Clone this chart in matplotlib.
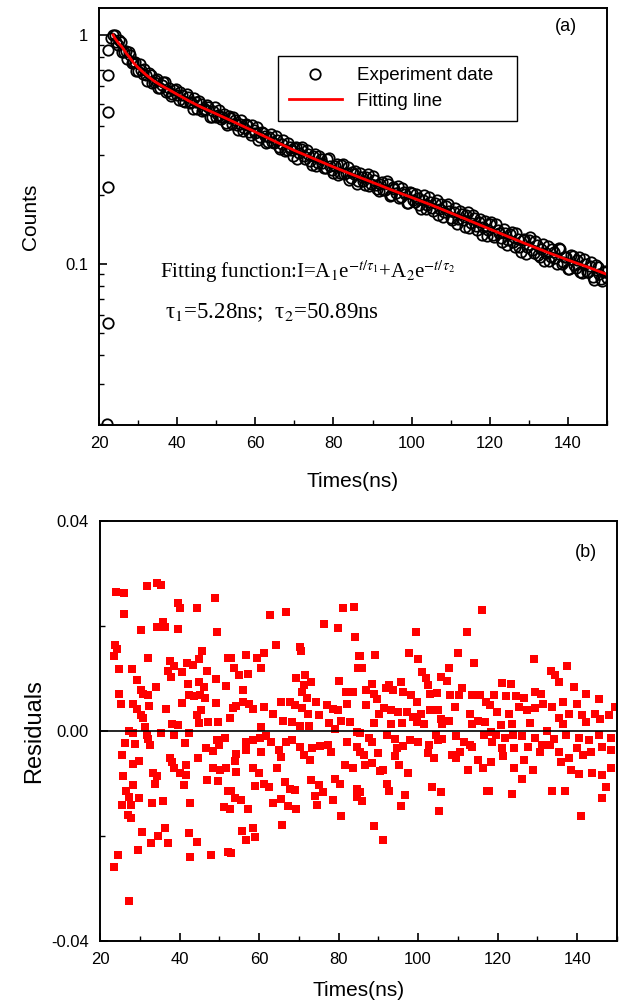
#=============================================================================================
# FLUORESCENCE DECAY + RESIDUALS
#=============================================================================================
import matplotlib
matplotlib.use("Agg")
import matplotlib.pyplot as plt
from matplotlib.ticker import FixedLocator, FixedFormatter, LogLocator, NullFormatter, MultipleLocator

plt.rcParams["font.family"] = ["Liberation Sans", "DejaVu Sans"]
plt.rcParams["mathtext.fontset"] = "stix"

# ---------------- DATA ---------------- #
# rising edge of the decay (first channels)
rise_t = [22.1, 22.2, 22.2, 22.3, 22.3, 22.4, 23.0, 23.5]
rise_counts = [0.0200, 0.0552, 0.217, 0.46, 0.67, 0.86, 0.97, 1.0]

# experiment data (normalised counts), even channels
exp_t = [
    24.0, 24.8, 25.6, 26.4, 27.2, 28.0, 28.8, 29.6, 30.4, 31.2,
    32.0, 32.8, 33.6, 34.4, 35.2, 36.0, 36.8, 37.6, 38.4, 39.2,
    40.0, 40.8, 41.6, 42.4, 43.2, 44.0, 44.8, 45.6, 46.4, 47.2,
    48.0, 48.8, 49.6, 50.4, 51.2, 52.0, 52.8, 53.6, 54.4, 55.2,
    56.0, 56.8, 57.6, 58.4, 59.2, 60.0, 60.8, 61.6, 62.4, 63.2,
    64.0, 64.8, 65.6, 66.4, 67.2, 68.0, 68.8, 69.6, 70.4, 71.2,
    72.0, 72.8, 73.6, 74.4, 75.2, 76.0, 76.8, 77.6, 78.4, 79.2,
    80.0, 80.8, 81.6, 82.4, 83.2, 84.0, 84.8, 85.6, 86.4, 87.2,
    88.0, 88.8, 89.6, 90.4, 91.2, 92.0, 92.8, 93.6, 94.4, 95.2,
    96.0, 96.8, 97.6, 98.4, 99.2, 100.0, 100.8, 101.6, 102.4, 103.2,
    104.0, 104.8, 105.6, 106.4, 107.2, 108.0, 108.8, 109.6, 110.4, 111.2,
    112.0, 112.8, 113.6, 114.4, 115.2, 116.0, 116.8, 117.6, 118.4, 119.2,
    120.0, 120.8, 121.6, 122.4, 123.2, 124.0, 124.8, 125.6, 126.4, 127.2,
    128.0, 128.8, 129.6, 130.4, 131.2, 132.0, 132.8, 133.6, 134.4, 135.2,
    136.0, 136.8, 137.6, 138.4, 139.2, 140.0, 140.8, 141.6, 142.4, 143.2,
    144.0, 144.8, 145.6, 146.4, 147.2, 148.0, 148.8, 149.6,
]
exp_counts = [
    1.00, 0.902, 0.931, 0.843, 0.787, 0.814, 0.765, 0.695, 0.746, 0.676,
    0.670, 0.680, 0.619, 0.636, 0.588, 0.606, 0.620, 0.568, 0.542, 0.577,
    0.545, 0.562, 0.515, 0.553, 0.503, 0.475, 0.507, 0.513, 0.463, 0.475,
    0.482, 0.439, 0.482, 0.445, 0.429, 0.453, 0.404, 0.432, 0.439, 0.404,
    0.409, 0.379, 0.410, 0.376, 0.405, 0.373, 0.349, 0.377, 0.360, 0.341,
    0.368, 0.337, 0.346, 0.317, 0.349, 0.315, 0.323, 0.296, 0.323, 0.304,
    0.324, 0.287, 0.301, 0.271, 0.301, 0.277, 0.287, 0.262, 0.288, 0.268,
    0.249, 0.272, 0.250, 0.273, 0.249, 0.232, 0.253, 0.255, 0.230, 0.239,
    0.220, 0.246, 0.224, 0.233, 0.212, 0.224, 0.211, 0.230, 0.197, 0.217,
    0.205, 0.194, 0.214, 0.201, 0.185, 0.205, 0.187, 0.194, 0.173, 0.199,
    0.180, 0.186, 0.170, 0.191, 0.173, 0.160, 0.179, 0.170, 0.156, 0.175,
    0.157, 0.165, 0.145, 0.168, 0.151, 0.158, 0.141, 0.157, 0.145, 0.132,
    0.149, 0.134, 0.149, 0.136, 0.125, 0.137, 0.127, 0.138, 0.119, 0.129,
    0.113, 0.129, 0.119, 0.131, 0.112, 0.121, 0.107, 0.122, 0.112, 0.103,
    0.116, 0.106, 0.117, 0.0996, 0.107, 0.0946, 0.109, 0.0989, 0.104, 0.0921,
    0.105, 0.0922, 0.0979, 0.0874, 0.0986, 0.0902, 0.0846, 0.0936,
]

# experiment data, odd channels
exp_t2 = [
    24.4, 25.2, 26.0, 26.8, 27.6, 28.4, 29.2, 30.0, 30.8, 31.6,
    32.4, 33.2, 34.0, 34.8, 35.6, 36.4, 37.2, 38.0, 38.8, 39.6,
    40.4, 41.2, 42.0, 42.8, 43.6, 44.4, 45.2, 46.0, 46.8, 47.6,
    48.4, 49.2, 50.0, 50.8, 51.6, 52.4, 53.2, 54.0, 54.8, 55.6,
    56.4, 57.2, 58.0, 58.8, 59.6, 60.4, 61.2, 62.0, 62.8, 63.6,
    64.4, 65.2, 66.0, 66.8, 67.6, 68.4, 69.2, 70.0, 70.8, 71.6,
    72.4, 73.2, 74.0, 74.8, 75.6, 76.4, 77.2, 78.0, 78.8, 79.6,
    80.4, 81.2, 82.0, 82.8, 83.6, 84.4, 85.2, 86.0, 86.8, 87.6,
    88.4, 89.2, 90.0, 90.8, 91.6, 92.4, 93.2, 94.0, 94.8, 95.6,
    96.4, 97.2, 98.0, 98.8, 99.6, 100.4, 101.2, 102.0, 102.8, 103.6,
    104.4, 105.2, 106.0, 106.8, 107.6, 108.4, 109.2, 110.0, 110.8, 111.6,
    112.4, 113.2, 114.0, 114.8, 115.6, 116.4, 117.2, 118.0, 118.8, 119.6,
    120.4, 121.2, 122.0, 122.8, 123.6, 124.4, 125.2, 126.0, 126.8, 127.6,
    128.4, 129.2, 130.0, 130.8, 131.6, 132.4, 133.2, 134.0, 134.8, 135.6,
    136.4, 137.2, 138.0, 138.8, 139.6, 140.4, 141.2, 142.0, 142.8, 143.6,
    144.4, 145.2, 146.0, 146.8, 147.6, 148.4, 149.2, 150.0,
]
exp_counts2 = [
    0.931, 0.948, 0.842, 0.848, 0.845, 0.750, 0.759, 0.692, 0.700, 0.707,
    0.629, 0.665, 0.625, 0.643, 0.588, 0.625, 0.562, 0.587, 0.554, 0.583,
    0.518, 0.546, 0.510, 0.538, 0.509, 0.531, 0.473, 0.500, 0.468, 0.495,
    0.437, 0.467, 0.438, 0.472, 0.439, 0.411, 0.444, 0.408, 0.423, 0.384,
    0.426, 0.392, 0.403, 0.366, 0.383, 0.396, 0.357, 0.374, 0.336, 0.359,
    0.340, 0.361, 0.323, 0.334, 0.311, 0.338, 0.314, 0.322, 0.287, 0.317,
    0.295, 0.315, 0.281, 0.295, 0.268, 0.295, 0.277, 0.263, 0.289, 0.258,
    0.268, 0.244, 0.269, 0.248, 0.265, 0.237, 0.246, 0.224, 0.250, 0.230,
    0.240, 0.219, 0.241, 0.222, 0.208, 0.228, 0.210, 0.224, 0.200, 0.212,
    0.219, 0.195, 0.206, 0.184, 0.206, 0.190, 0.202, 0.180, 0.191, 0.174,
    0.195, 0.175, 0.185, 0.164, 0.182, 0.169, 0.183, 0.159, 0.168, 0.150,
    0.171, 0.156, 0.163, 0.144, 0.164, 0.146, 0.153, 0.134, 0.154, 0.140,
    0.152, 0.131, 0.141, 0.130, 0.142, 0.121, 0.135, 0.125, 0.137, 0.119,
    0.127, 0.111, 0.127, 0.115, 0.126, 0.109, 0.116, 0.103, 0.120, 0.107,
    0.113, 0.100, 0.116, 0.102, 0.107, 0.0948, 0.108, 0.0960, 0.107, 0.0916,
    0.100, 0.0926, 0.102, 0.0855, 0.0971, 0.0860, 0.0923, 0.0868,
]

# fitting line
fit_t = [23.6, 24, 25, 26, 27, 28, 29, 30, 32, 34, 36, 38, 40, 43, 46, 50, 55, 60, 65, 70,
         75, 80, 85, 90, 95, 100, 105, 110, 115, 120, 125, 130, 135, 140, 145, 150]
fit_counts = [1.00, 0.97, 0.92, 0.88, 0.83, 0.79, 0.75, 0.72, 0.67, 0.63, 0.60, 0.575, 0.55,
              0.515, 0.485, 0.452, 0.413, 0.377, 0.343, 0.313, 0.288, 0.265, 0.245, 0.227,
              0.210, 0.195, 0.181, 0.167, 0.154, 0.142, 0.131, 0.121, 0.112, 0.104, 0.097, 0.090]

# residuals
res_t = [
    24.0, 26.0, 31.7, 34.4, 35.4, 26.0, 39.7, 40.2, 44.4, 48.8, 30.4, 34.4, 35.9, 36.4, 39.6,
    49.4, 23.8, 24.3, 23.5, 32.0, 24.7, 28.0, 37.7, 38.6, 37.2, 37.9, 40.7, 41.9, 43.4, 44.8,
    45.6, 46.8, 49.1, 52.3, 51.8, 29.2, 30.2, 30.9, 32.2, 34.1, 24.9, 25.2, 28.4, 29.4, 32.4,
    36.7, 40.7, 42.4, 43.6, 45.1, 46.4, 42.1, 44.9, 46.1, 49.1, 30.2, 30.9, 45.3, 44.3, 44.8,
    47.1, 49.8, 38.1, 39.7, 31.4, 27.2, 28.4, 31.7, 35.4, 38.7, 41.4, 42.4, 26.4, 28.9, 32.2,
    32.7, 25.5, 28.2, 29.7, 37.6, 38.2, 38.7, 40.1, 41.7, 41.7, 44.6, 46.6, 48.4, 49.3, 49.9,
    51.5, 48.3, 50.1, 51.8, 46.9, 49.8, 33.4, 34.4, 33.9, 25.7, 28.4, 26.5, 27.2, 29.9, 25.5,
    27.9, 33.0, 35.9, 41.2, 42.6, 51.1, 52.3, 27.0, 27.7, 30.5, 32.9, 34.7, 36.4, 37.2, 42.3,
    44.3, 29.5, 24.5, 23.5, 42.6, 47.9, 52.3, 27.2,
    62.8, 66.7, 81.0, 83.9, 76.4, 79.9, 84.2, 64.3, 70.3, 70.5, 56.6, 59.6, 61.3, 60.6, 85.1,
    52.9, 53.8, 54.9, 57.3, 55.9, 69.3, 71.5, 71.2, 73.0, 70.7, 72.0, 80.0, 81.9, 83.7, 84.9,
    53.4, 54.3, 55.9, 57.5, 58.6, 61.3, 63.6, 65.6, 67.7, 69.0, 66.0, 68.3, 70.8, 72.3, 74.3,
    75.0, 77.0, 78.5, 79.9, 80.7, 82.2, 82.9, 52.8, 60.6, 70.2, 72.5, 77.7, 79.2, 84.7, 56.6,
    58.5, 56.8, 60.3, 61.8, 63.0, 60.6, 65.1, 66.8, 68.2, 65.5, 70.3, 71.3, 72.7, 73.3, 75.4,
    77.4, 78.0, 82.2, 84.7, 54.3, 53.9, 54.3, 58.5, 60.1, 59.0, 61.3, 62.6, 64.5, 66.5, 67.7,
    69.0, 63.5, 65.6, 67.3, 69.2, 73.0, 75.2, 74.0, 74.5, 76.2, 78.5, 79.2, 80.4, 81.7, 83.5,
    84.7, 84.7, 52.9, 52.8, 53.9, 55.4, 57.1, 55.8, 56.8, 58.6, 59.0, 65.8, 80.5, 52.9,
    116.1, 99.4, 112.3, 89.2, 97.7, 99.9, 110.0, 114.1, 85.5, 85.9, 100.9, 101.9, 107.8, 105.8,
    107.3, 88.5, 86.9, 89.0, 92.6, 95.7, 93.6, 86.9, 89.6, 91.9, 96.2, 98.1, 99.6, 102.6, 103.1,
    104.8, 108.1, 110.3, 111.1, 113.6, 115.5, 117.0, 90.2, 91.4, 93.2, 94.9, 97.2, 98.8, 100.8,
    102.9, 104.9, 105.8, 109.3, 113.0, 115.0, 116.7, 88.9, 93.2, 95.9, 99.6, 101.4, 106.1, 107.8,
    113.6, 85.5, 87.7, 88.5, 92.2, 94.2, 97.9, 99.9, 102.8, 104.6, 106.1, 109.6, 111.6, 113.6,
    116.5, 85.5, 86.5, 89.9, 94.6, 96.1, 102.6, 105.1, 108.5, 109.6, 110.5, 113.0, 86.7, 88.4,
    90.4, 91.2, 92.1, 92.7, 94.1, 95.1, 97.4, 96.6, 95.7, 104.1, 103.6, 105.8, 105.3, 112.5,
    115.0, 116.3, 117.2, 85.9, 85.4, 88.9, 91.1,
    129.2, 133.4, 137.4, 134.5, 135.4, 121.0, 123.3, 119.1, 122.2, 124.7, 126.5, 129.5, 131.0,
    139.2, 142.1, 145.4, 139.9, 136.5, 118.0, 119.8, 122.8, 125.3, 127.5, 129.3, 131.5, 133.7,
    137.9, 141.1, 144.6, 147.9, 149.4, 120.8, 123.7, 128.2, 132.5, 135.5, 136.5, 142.2, 145.7,
    118.3, 119.5, 121.8, 123.8, 126.2, 129.5, 131.2, 134.2, 137.2, 140.4, 142.9, 145.4, 148.6,
    118.6, 121.1, 124.2, 127.7, 130.7, 133.2, 135.5, 138.0, 139.9, 141.4, 143.4, 146.2, 148.6,
    118.3, 121.3, 124.2, 126.2, 126.5, 128.8, 136.0, 138.4, 140.4, 143.7, 146.2, 148.4, 117.8,
    123.7, 133.7, 136.9, 140.9, 146.2, 147.2,
]
res_val = [
    0.0265, 0.0262, 0.0276, 0.0282, 0.0279, 0.0222, 0.0244, 0.0234, 0.0234, 0.0254, 0.0193,
    0.0199, 0.0207, 0.0198, 0.0194, 0.0189, 0.0163, 0.0156, 0.0142, 0.0139, 0.0119, 0.0119,
    0.0134, 0.0124, 0.0114, 0.0102, 0.0112, 0.0130, 0.0126, 0.0138, 0.0152, 0.0114, 0.0100,
    0.0139, 0.0085, 0.0097, 0.0078, 0.0071, 0.0069, 0.0084, 0.0070, 0.0051, 0.0051, 0.0042,
    0.0048, 0.0042, 0.0054, 0.0069, 0.0066, 0.0069, 0.0063, 0.0089, 0.0094, 0.0084, 0.0054,
    0.0031, 0.0024, 0.0040, 0.0031, 0.0015, 0.0018, 0.0018, 0.0013, 0.0011, 0.0008, 0.0000,
    -0.0003, -0.0008, -0.0004, -0.0008, -0.0022, -0.0004, -0.0022, -0.0024, -0.0015, -0.0026,
    -0.0046, -0.0063, -0.0057, -0.0051, -0.0059, -0.0071, -0.0079, -0.0064, -0.0083, -0.0051,
    -0.0033, -0.0038, -0.0018, -0.0027, -0.0014, -0.0071, -0.0074, -0.0071, -0.0094, -0.0096,
    -0.0079, -0.0085, -0.0101, -0.0085, -0.0103, -0.0115, -0.0126, -0.0128, -0.0140, -0.0140,
    -0.0138, -0.0133, -0.0103, -0.0137, -0.0145, -0.0114, -0.0160, -0.0165, -0.0193, -0.0213,
    -0.0199, -0.0185, -0.0213, -0.0194, -0.0211, -0.0227, -0.0237, -0.0259, -0.0240, -0.0236,
    -0.0231, -0.0323,
    0.0221, 0.0227, 0.0234, 0.0236, 0.0204, 0.0197, 0.0179, 0.0163, 0.0161, 0.0152, 0.0145,
    0.0140, 0.0148, 0.0121, 0.0142, 0.0139, 0.0120, 0.0107, 0.0108, 0.0078, 0.0101, 0.0106,
    0.0088, 0.0093, 0.0075, 0.0063, 0.0096, 0.0074, 0.0075, 0.0120, 0.0043, 0.0048, 0.0055,
    0.0052, 0.0042, 0.0046, 0.0032, 0.0056, 0.0055, 0.0050, 0.0020, 0.0018, 0.0043, 0.0033,
    0.0056, 0.0031, 0.0050, 0.0042, 0.0040, 0.0020, 0.0052, 0.0017, 0.0024, 0.0008, 0.0010,
    0.0009, 0.0015, 0.0003, -0.0001, -0.0020, -0.0017, -0.0037, -0.0013, -0.0010, -0.0020,
    -0.0040, -0.0036, -0.0020, -0.0017, -0.0050, -0.0031, -0.0046, -0.0056, -0.0033, -0.0028,
    -0.0026, -0.0040, -0.0020, -0.0031, -0.0043, -0.0057, -0.0078, -0.0071, -0.0079, -0.0105,
    -0.0100, -0.0107, -0.0071, -0.0097, -0.0110, -0.0112, -0.0137, -0.0129, -0.0142, -0.0149,
    -0.0093, -0.0102, -0.0124, -0.0140, -0.0117, -0.0131, -0.0091, -0.0100, -0.0065, -0.0071,
    -0.0110, -0.0125, -0.0115, -0.0149, -0.0128, -0.0131, -0.0149, -0.0190, -0.0207, -0.0185,
    -0.0202, -0.0179, -0.0162, -0.0232,
    0.0230, 0.0188, 0.0188, 0.0145, 0.0148, 0.0138, 0.0148, 0.0130, 0.0143, 0.0120, 0.0112,
    0.0101, 0.0120, 0.0103, 0.0096, 0.0089, 0.0079, 0.0071, 0.0088, 0.0094, 0.0079, 0.0050,
    0.0061, 0.0082, 0.0075, 0.0069, 0.0056, 0.0088, 0.0070, 0.0073, 0.0069, 0.0069, 0.0082,
    0.0068, 0.0069, 0.0056, 0.0033, 0.0043, 0.0040, 0.0036, 0.0037, 0.0027, 0.0032, 0.0040,
    0.0041, 0.0022, 0.0046, 0.0032, 0.0020, 0.0018, 0.0015, 0.0014, 0.0015, 0.0018, 0.0014,
    0.0014, 0.0020, 0.0013, -0.0004, -0.0013, -0.0020, -0.0008, -0.0015, -0.0018, -0.0020,
    -0.0026, -0.0008, -0.0015, -0.0010, -0.0020, -0.0031, -0.0008, -0.0040, -0.0045, -0.0041,
    -0.0033, -0.0028, -0.0041, -0.0018, -0.0046, -0.0052, -0.0040, -0.0026, -0.0064, -0.0061,
    -0.0077, -0.0075, -0.0100, -0.0114, -0.0048, -0.0065, -0.0079, -0.0121, -0.0143, -0.0051,
    -0.0107, -0.0116, -0.0152, -0.0074, -0.0055, -0.0070, -0.0114, -0.0134, -0.0117, -0.0180,
    -0.0208,
    0.0137, 0.0115, 0.0124, 0.0106, 0.0094, 0.0092, 0.0089, 0.0069, 0.0066, 0.0066, 0.0063,
    0.0075, 0.0071, 0.0083, 0.0070, 0.0061, 0.0051, 0.0056, 0.0050, 0.0037, 0.0033, 0.0046,
    0.0040, 0.0043, 0.0051, 0.0046, 0.0033, 0.0031, 0.0033, 0.0031, 0.0046, 0.0011, 0.0014,
    0.0015, 0.0001, 0.0024, 0.0014, 0.0018, 0.0022, -0.0001, -0.0008, -0.0014, -0.0008,
    -0.0010, -0.0013, -0.0027, -0.0015, -0.0008, -0.0013, -0.0017, -0.0008, -0.0013, -0.0020,
    -0.0033, -0.0033, -0.0031, -0.0040, -0.0027, -0.0040, -0.0052, -0.0033, -0.0046, -0.0040,
    -0.0031, -0.0036, -0.0059, -0.0048, -0.0071, -0.0092, -0.0056, -0.0074, -0.0059, -0.0074,
    -0.0082, -0.0079, -0.0084, -0.0071, -0.0115, -0.0120, -0.0115, -0.0115, -0.0161, -0.0128,
    -0.0107,
]

x_ticks = [20, 40, 60, 80, 100, 120, 140]

# ---------------- FIGURE ---------------- #
fig = plt.figure(figsize=(6.21, 10.01), dpi=100)
ax1 = fig.add_axes([0.1594, 0.5754, 0.818, 0.4166])
ax2 = fig.add_axes([0.161, 0.0599, 0.8325, 0.4196])

# (a) decay curve
ax1.plot(rise_t + exp_t + exp_t2, rise_counts + exp_counts + exp_counts2, "o", mfc="none",
         mec="black", ms=7.5, mew=1.3, label="Experiment date")
ax1.plot(fit_t, fit_counts, "-", color="red", lw=2, label="Fitting line")
ax1.set_yscale("log")
ax1.set_xlim(20, 150)
ax1.set_ylim(0.0198, 1.31)
ax1.yaxis.set_major_locator(FixedLocator([0.1, 1]))
ax1.yaxis.set_major_formatter(FixedFormatter(["0.1", "1"]))
ax1.yaxis.set_minor_locator(LogLocator(base=10, subs=range(2, 10)))
ax1.yaxis.set_minor_formatter(NullFormatter())
ax1.set_xlabel("Times(ns)", fontsize=15, labelpad=15)
ax1.set_ylabel("Counts", fontsize=15, labelpad=18)
ax1.text(0.92, 0.955, "(a)", transform=ax1.transAxes, fontsize=13, ha="center", va="center")
ax1.text(0.12, 0.367, r"Fitting function:I=A$_1$e$^{-t/\tau_1}$+A$_2$e$^{-t/\tau_2}$",
         transform=ax1.transAxes, fontsize=15, family="Liberation Serif", va="center")
ax1.text(0.13, 0.27, "\u03c4$_1$=5.28ns;  \u03c4$_2$=50.89ns",
         transform=ax1.transAxes, fontsize=16.5, family="Liberation Serif", va="center")
leg = ax1.legend(loc="upper left", bbox_to_anchor=(0.352, 0.885, 0.471, 0.0), mode="expand",
                 fancybox=False, edgecolor="black", framealpha=1, fontsize=13.5,
                 handlelength=2.8, borderpad=0.6, labelspacing=0.45, borderaxespad=0)
leg.get_frame().set_linewidth(1.0)

# (b) residuals
ax2.plot(res_t, res_val, "s", color="red", ms=5.3, mew=0)
ax2.axhline(0, color="black", lw=1.2)
ax2.set_xlim(20, 150)
ax2.set_ylim(-0.04, 0.04)
ax2.yaxis.set_major_locator(FixedLocator([-0.04, 0.0, 0.04]))
ax2.yaxis.set_major_formatter(FixedFormatter(["-0.04", "0.00", "0.04"]))
ax2.yaxis.set_minor_locator(FixedLocator([-0.02, 0.02]))
ax2.set_xlabel("Times(ns)", fontsize=15, labelpad=10)
ax2.set_ylabel("Residuals", fontsize=17, labelpad=4)
ax2.text(0.94, 0.925, "(b)", transform=ax2.transAxes, fontsize=13, ha="center", va="center")

for ax in (ax1, ax2):
    ax.set_xticks(x_ticks)
    ax.xaxis.set_minor_locator(MultipleLocator(10))
    ax.tick_params(which="both", direction="in", top=False, right=False, labelsize=12)
    ax.tick_params(which="major", length=6, width=1.2, pad=8)
    ax.tick_params(which="minor", length=3.5, width=1.0)
    for s in ax.spines.values():
        s.set_linewidth(1.4)

fig.savefig("out.png", dpi=100)
